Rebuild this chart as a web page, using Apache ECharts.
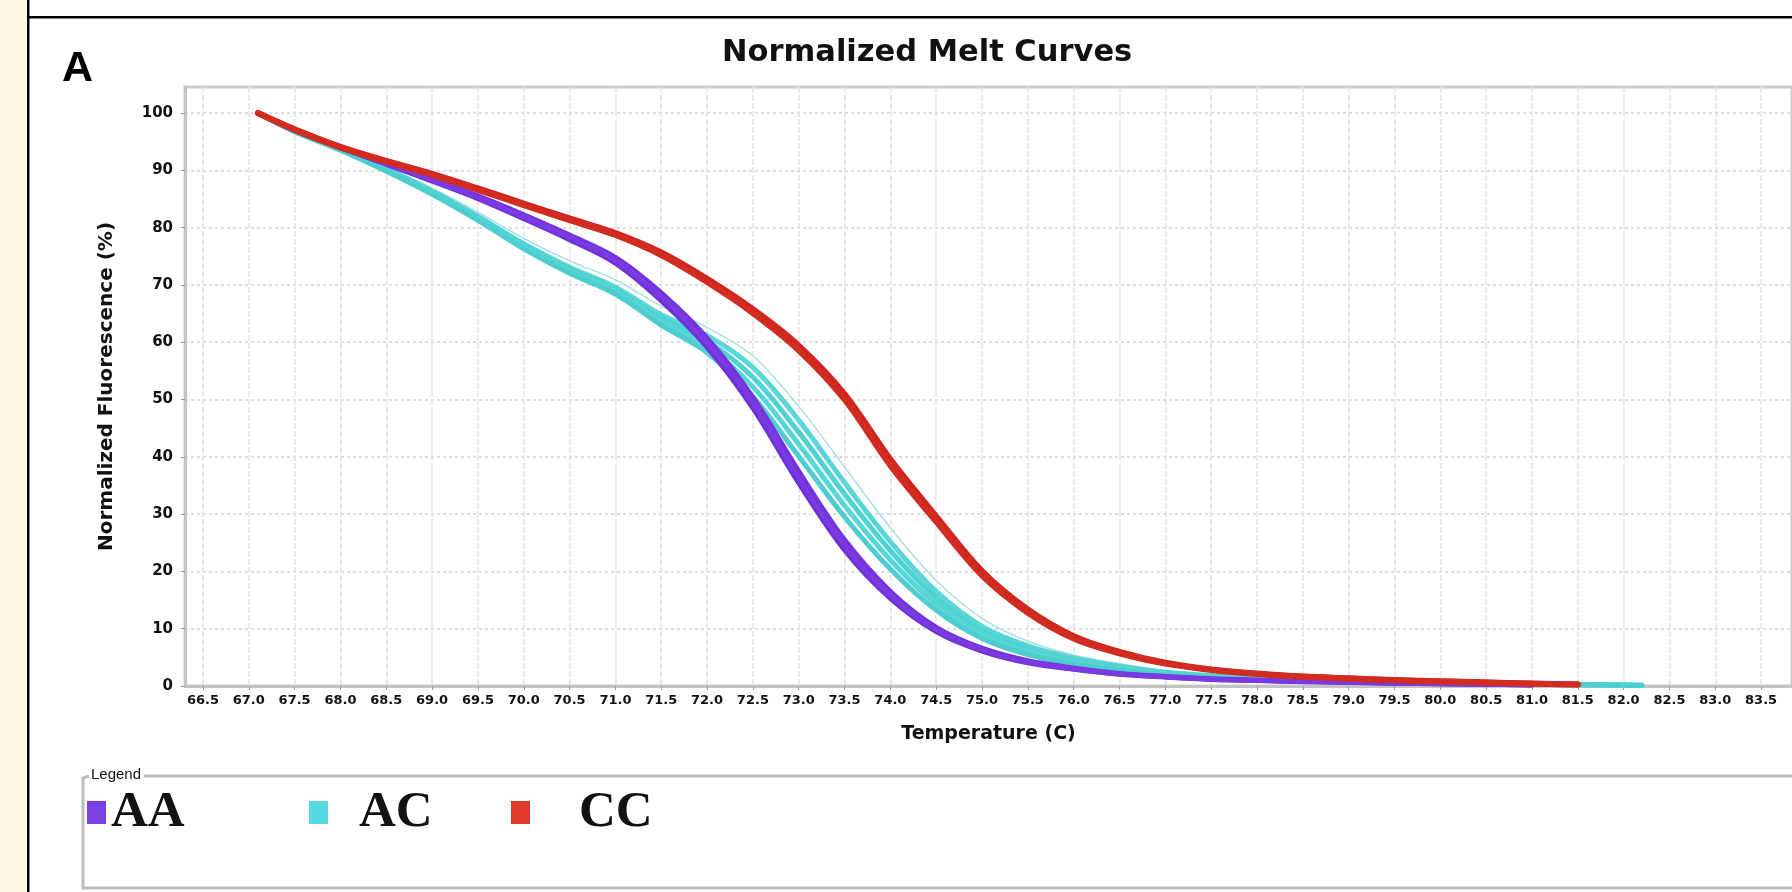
<!DOCTYPE html>
<html>
<head>
<meta charset="utf-8">
<script src="https://cdn.jsdelivr.net/npm/echarts@6/dist/echarts.min.js"></script>
<style>
html,body{margin:0;padding:0;background:#ffffff;}
#chart{width:1792px;height:892px;}
</style>
</head>
<body>
<div id="chart"></div>
<script>
// ---- data ----
const temps = [67.1, 67.5, 68.0, 68.5, 69.0, 69.5, 70.0, 70.5, 71.0, 71.5, 72.0, 72.5, 73.0, 73.5, 74.0, 74.5, 75.0, 75.5, 76.0, 76.5, 77.0, 77.5, 78.0, 78.5, 79.0, 79.5, 80.0, 80.5, 81.0, 81.5, 82.0, 82.2];

// AA genotype (purple) replicates
const AA_1 = [100, 97.0, 94.0, 91.2, 88.3, 85.3, 81.9, 78.3, 74.3, 67.9, 59.9, 49.4, 36.3, 24.5, 15.8, 9.8, 6.3, 4.2, 3.0, 2.1, 1.6, 1.2, 1.0, 0.8, 0.65, 0.5, 0.4, 0.3, 0.2];
const AA_2 = [100, 97.05, 94.1, 91.35, 88.5, 85.55, 82.25, 78.7, 74.8, 68.6, 60.7, 50.35, 37.45, 25.5, 16.5, 10.25, 6.6, 4.4, 3.15, 2.2, 1.65, 1.25, 1.02, 0.82, 0.68, 0.52, 0.42, 0.32, 0.22];
const AA_3 = [100, 96.95, 93.9, 91.05, 88.1, 85.05, 81.55, 77.9, 73.8, 67.25, 59.15, 48.5, 35.45, 23.75, 15.3, 9.5, 6.1, 4.05, 2.9, 2.05, 1.55, 1.15, 0.95, 0.75, 0.62, 0.48, 0.38, 0.28, 0.18];

// AC genotype (cyan) replicates
const AC_1 = [100, 96.75, 93.5, 89.85, 85.8, 81.25, 76.3, 72.05, 68.4, 63.0, 58.2, 50.5, 40.1, 29.5, 20.4, 13.2, 8.3, 5.5, 3.85, 2.75, 1.95, 1.48, 1.12, 0.92, 0.75, 0.65, 0.5, 0.41, 0.31, 0.22, 0.13, 0.08];
const AC_2 = [100, 96.8, 93.6, 90.0, 86.0, 81.5, 76.6, 72.4, 68.8, 63.6, 59.2, 52.2, 42.2, 31.5, 22.0, 14.3, 9.0, 6.0, 4.2, 3.0, 2.1, 1.6, 1.2, 1.0, 0.8, 0.7, 0.55, 0.45, 0.35, 0.25, 0.15, 0.1];
const AC_3 = [100, 96.85, 93.7, 90.15, 86.2, 81.75, 76.9, 72.75, 69.2, 64.2, 60.2, 53.9, 44.3, 33.5, 23.6, 15.4, 9.7, 6.5, 4.55, 3.25, 2.25, 1.72, 1.28, 1.08, 0.85, 0.75, 0.6, 0.49, 0.39, 0.28, 0.17, 0.12];
const AC_4 = [100, 96.9, 93.8, 90.3, 86.4, 82.0, 77.2, 73.1, 69.6, 64.8, 61.2, 55.6, 46.4, 35.5, 25.2, 16.5, 10.4, 7.0, 4.9, 3.5, 2.4, 1.84, 1.36, 1.16, 0.9, 0.8, 0.65, 0.53, 0.43, 0.31, 0.19, 0.14];
const AC_5 = [100, 97.0, 94.0, 90.6, 86.9, 82.7, 78.1, 74.2, 70.9, 66.3, 62.6, 57.6, 48.8, 38.2, 27.6, 18.4, 11.8, 7.8, 5.4, 3.9, 2.7, 2.0, 1.5, 1.2, 1.0, 0.85, 0.7, 0.55, 0.45, 0.33, 0.22, 0.14];

// CC genotype (red) replicates
const CC_1 = [100, 97.1, 94.0, 91.5, 89.2, 86.6, 83.9, 81.3, 78.7, 75.2, 70.5, 65.1, 58.6, 50.0, 38.5, 28.7, 19.3, 12.8, 8.3, 5.7, 3.9, 2.8, 2.1, 1.6, 1.3, 1.0, 0.8, 0.6, 0.4, 0.25];
const CC_2 = [100, 97.15, 94.1, 91.65, 89.4, 86.85, 84.2, 81.6, 79.05, 75.65, 71.05, 65.75, 59.4, 50.95, 39.55, 29.6, 20.05, 13.35, 8.7, 5.95, 4.05, 2.9, 2.18, 1.65, 1.35, 1.05, 0.83, 0.63, 0.43, 0.28];

// tick labels
const xTicks = [66.5, 67.0, 67.5, 68.0, 68.5, 69.0, 69.5, 70.0, 70.5, 71.0, 71.5, 72.0, 72.5, 73.0, 73.5, 74.0, 74.5, 75.0, 75.5, 76.0, 76.5, 77.0, 77.5, 78.0, 78.5, 79.0, 79.5, 80.0, 80.5, 81.0, 81.5, 82.0, 82.5, 83.0, 83.5];
const yTicks = [0, 10, 20, 30, 40, 50, 60, 70, 80, 90, 100];

const genotypes = ['AA', 'AC', 'CC'];
const legendColors = { AA: '#7b3fe4', AC: '#56d8e2', CC: '#e0392b' };

// ---- chart ----
function pairs(vals) {
  const out = [];
  for (let i = 0; i < vals.length; i++) {
    if (vals[i] != null) out.push([temps[i], vals[i]]);
  }
  return out;
}
function curve(name, vals, color, width, z) {
  return {
    type: 'line', name: name, data: pairs(vals), smooth: 0.35,
    symbol: 'none', z: z, silent: true,
    lineStyle: { color: color, width: width, cap: 'round', join: 'round' },
    itemStyle: { color: legendColors[name] }
  };
}

const series = [
  curve('AC', AC_5, '#a9e0e2', 1.5, 2),
  curve('AC', AC_4, '#5ad6d8', 5, 2),
  curve('AC', AC_3, '#50d2d2', 5, 2),
  curve('AC', AC_2, '#56d6d6', 5, 2),
  curve('AC', AC_1, '#4ecdd0', 5, 2),
  curve('AA', AA_3, '#6e30d8', 5, 3),
  curve('AA', AA_2, '#7434dc', 5, 3),
  curve('AA', AA_1, '#7a3ae2', 5, 3),
  curve('CC', CC_2, '#cf2620', 6, 4),
  curve('CC', CC_1, '#d22b20', 6, 4)
];

const labelFont = 'DejaVu Sans';
const legendDefs = [
  { name: 'AA', left: 87, pad: 0 },
  { name: 'AC', left: 309, pad: 26 },
  { name: 'CC', left: 511, pad: 44 }
];

const chart = echarts.init(document.getElementById('chart'), null, { renderer: 'canvas' });
chart.setOption({
  animation: false,
  backgroundColor: '#ffffff',
  title: {
    text: 'Normalized Melt Curves',
    left: 722, top: 38, padding: 0,
    textStyle: { fontFamily: labelFont, fontWeight: 'bold', fontSize: 30.5, color: '#111111' }
  },
  grid: {
    left: 185, top: 87, right: -6, bottom: 206,
    show: true, borderColor: '#cccccc', borderWidth: 3, backgroundColor: '#ffffff'
  },
  legend: legendDefs.map(function (d) {
    return {
      data: [{ name: d.name, itemStyle: { color: legendColors[d.name] } }],
      left: d.left, top: 787, padding: 0,
      icon: 'rect', itemWidth: 19, itemHeight: 23,
      selectedMode: false,
      textStyle: {
        fontFamily: 'Liberation Serif', fontWeight: 'bold', fontSize: 51,
        color: '#111111', padding: [0, 0, 0, d.pad]
      }
    };
  }),
  xAxis: {
    type: 'value', min: 66.304, max: 83.837,
    name: 'Temperature (C)', nameLocation: 'middle', nameGap: 39,
    nameTextStyle: { fontFamily: labelFont, fontWeight: 'bold', fontSize: 19, color: '#111111' },
    axisLine: { show: true, lineStyle: { color: '#c4c4c4', width: 3 } },
    axisTick: { show: true, length: 4, customValues: xTicks, lineStyle: { color: '#9a9a9a', width: 1 } },
    axisLabel: {
      customValues: xTicks, margin: 8, color: '#111111',
      fontFamily: labelFont, fontWeight: 'bold', fontSize: 13,
      formatter: function (v) { return Number(v).toFixed(1); }
    },
    splitLine: { show: true, lineStyle: { color: '#e4e4e4', width: 1.5, type: [6, 2] } }
  },
  yAxis: {
    type: 'value', min: 0, max: 104.54,
    name: 'Normalized Fluorescence (%)', nameLocation: 'middle', nameGap: 68,
    nameTextStyle: { fontFamily: labelFont, fontWeight: 'bold', fontSize: 20, color: '#111111' },
    axisLine: { show: true, lineStyle: { color: '#c4c4c4', width: 3 } },
    axisTick: { show: true, length: 4, customValues: yTicks, lineStyle: { color: '#9a9a9a', width: 1 } },
    axisLabel: {
      customValues: yTicks, margin: 12, color: '#111111',
      fontFamily: labelFont, fontWeight: 'bold', fontSize: 15
    },
    splitLine: { show: true, lineStyle: { color: '#d4d4d4', width: 1.5, type: [3, 3] } }
  },
  graphic: [
    { type: 'rect', shape: { x: 0, y: 0, width: 27, height: 892 }, style: { fill: '#fff9e4' }, silent: true },
    { type: 'rect', shape: { x: 27, y: 0, width: 2.5, height: 892 }, style: { fill: '#000000' }, silent: true },
    { type: 'rect', shape: { x: 27, y: 16, width: 1765, height: 2.5 }, style: { fill: '#000000' }, silent: true },
    { type: 'text', x: 62, y: 69.5, silent: true,
      style: { text: 'A', font: 'bold 43px "Liberation Sans", Arial, sans-serif', fill: '#000000', verticalAlign: 'middle', align: 'left' } },
    { type: 'polyline', silent: true, shape: { points: [[89, 776], [83, 778], [83, 888], [1792, 888]] },
      style: { stroke: '#bdbdbd', lineWidth: 3, fill: null } },
    { type: 'line', silent: true, shape: { x1: 144, y1: 776, x2: 1792, y2: 776 },
      style: { stroke: '#bdbdbd', lineWidth: 3 } },
    { type: 'text', x: 91, y: 775, silent: true,
      style: { text: 'Legend', font: '15px "Liberation Sans", Arial, sans-serif', fill: '#111111', verticalAlign: 'middle', align: 'left' } }
  ],
  series: series
});
</script>
</body>
</html>
